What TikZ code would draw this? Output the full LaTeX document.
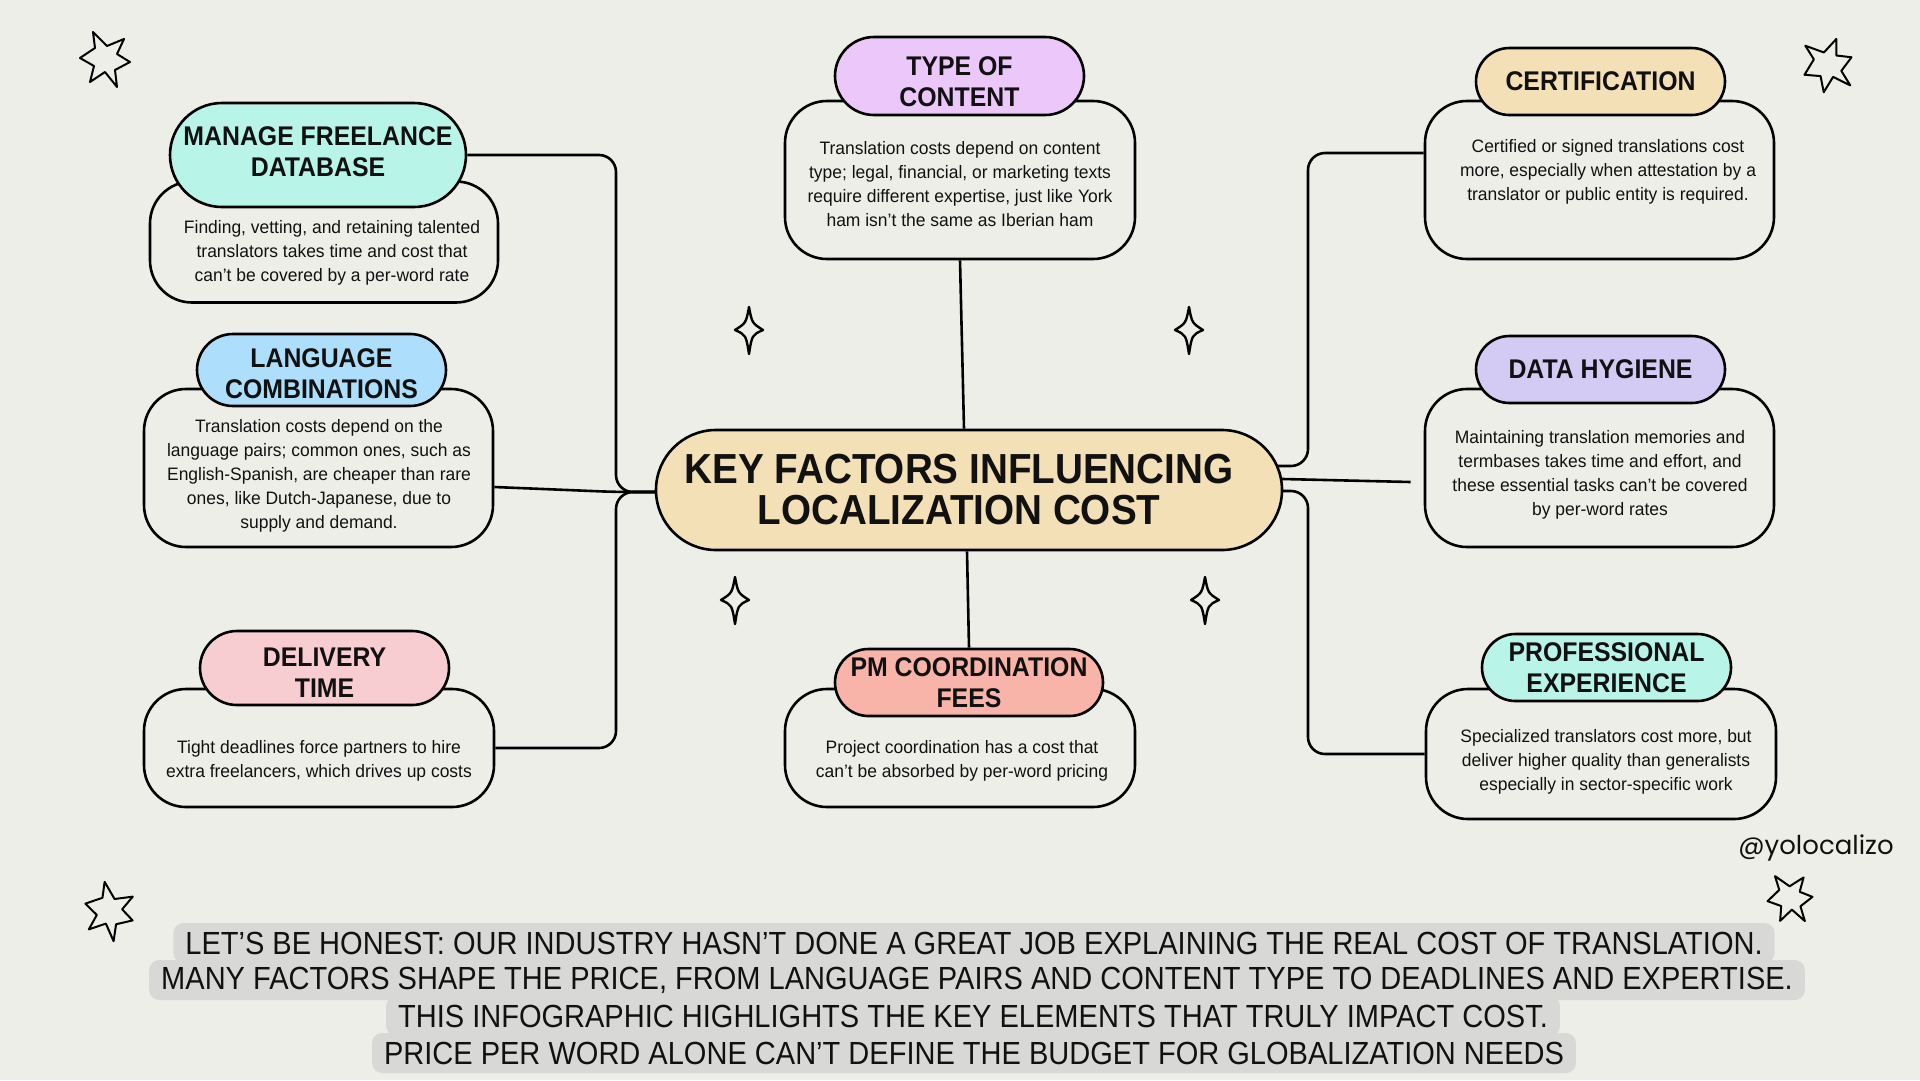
\documentclass[tikz,border=0pt]{standalone}
\usepackage{fontspec}
\setmainfont{Liberation Sans}
\newfontfamily\descfont[FakeStretch=0.97]{Liberation Sans}
\newfontfamily\titlefont[FakeStretch=0.92]{Liberation Sans}
\newfontfamily\notefont[FakeStretch=0.907]{Liberation Sans}
\newfontfamily\handlefont{Poppins}
\usetikzlibrary{shapes.misc,calc}
\pgfdeclarelayer{bgfill}
\pgfdeclarelayer{links}
\pgfsetlayers{bgfill,links,main}
\definecolor{bgc}{RGB}{238,238,233}
\definecolor{mint}{RGB}{184,245,232}
\definecolor{skyb}{RGB}{173,222,252}
\definecolor{pinkc}{RGB}{248,205,210}
\definecolor{lav}{RGB}{236,199,250}
\definecolor{salmon}{RGB}{248,180,168}
\definecolor{wheat}{RGB}{243,224,183}
\definecolor{peri}{RGB}{212,203,245}
\definecolor{hl}{RGB}{216,216,214}
\definecolor{ink}{RGB}{17,17,17}
\tikzset{
  pill/.style={rounded rectangle, draw=black, line width=2.6pt, align=center, inner sep=0pt,
    text=ink, font=\titlefont\bfseries\fontsize{27}{31}\selectfont},
  descbox/.style={draw=black, line width=2.6pt, rounded corners=42pt, fill=bgc, inner sep=0pt},
  desctext/.style={align=center, inner sep=0pt, text=ink, font=\descfont\fontsize{18}{24}\selectfont},
  conn/.style={draw=black, line width=2.6pt, rounded corners=17pt},
  note/.style={fill=hl, rounded corners=10pt, inner xsep=12pt, inner ysep=0pt, minimum height=40pt,
    text=ink, font=\notefont\fontsize{32}{36}\selectfont},
  hstar/.pic={\draw[line width=2pt, line join=round] (-25,-2) -- (-10,-12) -- (-12,-28) -- (2,-14) -- (19,-21) -- (12,-6) -- (25,2) -- (10,10) -- (12,27) -- (0,12) -- (-15,22) -- (-11,6) -- cycle;},
  spark/.pic={\draw[line width=2.4pt, line join=round] (0,-23) .. controls (3,-7) .. (14,0) .. controls (3,5) .. (0,24) .. controls (-3,5) .. (-14,0) .. controls (-3,-7) .. (0,-23) -- cycle;}
}
\begin{document}
\begin{tikzpicture}[x=1pt,y=-1pt]
\begin{pgfonlayer}{bgfill}
\fill[bgc] (0,0) rectangle (1920,1080);
\end{pgfonlayer}
\useasboundingbox (0,0) rectangle (1920,1080);

% ---- Manage freelance database
\node[descbox, minimum width=348, minimum height=121] (mb) at (324,242) {};
\node[desctext] (mt) at (332,253) {Finding, vetting, and retaining talented\\translators takes time and cost that\\can’t be covered by a per-word rate};
\node[pill, fill=mint, minimum width=296, minimum height=104] (mp) at (318,155) {MANAGE FREELANCE\\DATABASE\rule[-6pt]{0pt}{6pt}};

% ---- Language combinations
\node[descbox, minimum width=349, minimum height=158] (lb) at (318.5,468) {};
\node[desctext] (lt) at (319,476) {Translation costs depend on the\\language pairs; common ones, such as\\English-Spanish, are cheaper than rare\\ones, like Dutch-Japanese, due to\\supply and demand.};
\node[pill, fill=skyb, minimum width=249, minimum height=72] (lp) at (321.5,370) {\rule{0pt}{25.5pt}LANGUAGE\\COMBINATIONS};

% ---- Delivery time
\node[descbox, minimum width=350, minimum height=118] (db) at (319,748) {};
\node[desctext] (dt) at (319,761) {Tight deadlines force partners to hire\\extra freelancers, which drives up costs};
\node[pill, fill=pinkc, minimum width=249, minimum height=74] (dp) at (324.5,668) {\rule{0pt}{27.5pt}DELIVERY\\TIME};

% ---- Type of content
\node[descbox, minimum width=350, minimum height=158] (tb) at (960,180) {};
\node[desctext] (tt) at (960,184) {Translation costs depend on content\\type; legal, financial, or marketing texts\\require different expertise, just like York\\ham isn’t the same as Iberian ham};
\node[pill, fill=lav, minimum width=249, minimum height=78] (tp) at (959.5,76) {\rule{0pt}{30pt}TYPE OF\\CONTENT};

% ---- PM coordination fees
\node[descbox, minimum width=350, minimum height=118] (pb) at (960,748) {};
\node[desctext] (pt) at (962,761) {Project coordination has a cost that\\can’t be absorbed by per-word pricing};
\node[pill, fill=salmon, minimum width=268, minimum height=67] (pp) at (969,682.5) {PM COORDINATION\\FEES};

% ---- Certification
\node[descbox, minimum width=349, minimum height=158] (cb) at (1599.5,180) {};
\node[desctext] (ct) at (1608,172) {Certified or signed translations cost\\more, especially when attestation by a\\translator or public entity is required.};
\node[pill, fill=wheat, minimum width=249, minimum height=67] (cp) at (1600.5,81.5) {CERTIFICATION};

% ---- Data hygiene
\node[descbox, minimum width=349, minimum height=158] (hb) at (1599.5,468) {};
\node[desctext] (ht) at (1600,475) {Maintaining translation memories and\\termbases takes time and effort, and\\these essential tasks can’t be covered\\by per-word rates};
\node[pill, fill=peri, minimum width=249, minimum height=67] (hp) at (1600.5,369.5) {DATA HYGIENE};

% ---- Professional experience
\node[descbox, minimum width=350, minimum height=130] (xb) at (1601,754) {};
\node[desctext] (xt) at (1606,762) {Specialized translators cost more, but\\deliver higher quality than generalists\\especially in sector-specific work};
\node[pill, fill=mint, minimum width=249, minimum height=67] (xp) at (1606.5,667.5) {PROFESSIONAL\\EXPERIENCE};

% ---- Central
\node[pill, fill=wheat, minimum width=626, minimum height=120,
  font=\titlefont\bfseries\fontsize{42}{41}\selectfont] (c) at (969,490) {KEY FACTORS INFLUENCING\hspace*{20pt}\\LOCALIZATION COST\hspace*{20pt}};

% ---- connectors
\begin{pgfonlayer}{links}
\coordinate (lx) at (616,492);
\coordinate (cl) at (700,492);
\draw[conn] (mp.east) -- (lx |- mp.east) -- (lx) -- (cl);
\draw[conn] ($(lb.east)+(0,19)$) -- (lx) -- (cl);
\draw[conn] (db.east) -- (lx |- db.east) -- (lx) -- (cl);
\draw[conn] (tb.south) -- ($(c.north)+(-5,0)$);
\draw[conn] ($(c.south)+(-2,0)$) -- (pp.north);
\coordinate (rx) at (1308,0);
\coordinate (cru) at (1240,466);
\coordinate (crm) at (1240,478);
\coordinate (crd) at (1240,491);
\coordinate (cbw) at ($(cb.west)+(0,-27)$);
\draw[conn] (cru) -- (rx |- cru) -- (rx |- cbw) -- (cbw);
\draw[conn] (crm) -- ($(hb.west)+(-13,14)$);
\draw[conn] (crd) -- (rx |- crd) -- (rx |- xb.west) -- (xb.west);
\end{pgfonlayer}

% ---- decorations
\pic at (105,60) {hstar};
\pic[rotate=25] at (1828,66) {hstar};
\pic[rotate=-15] at (109,912) {hstar};
\pic[rotate=10, scale=0.9] at (1790,899) {hstar};
\pic at (749,330) {spark};
\pic at (1189,330) {spark};
\pic at (735,600) {spark};
\pic at (1205,600) {spark};

% ---- handle
\node[inner sep=0pt, text=ink, font=\handlefont\fontsize{26}{30}\selectfont] (hd) at (1816,848) {@yolocalizo};

% ---- bottom note
\node[note] (n1) at (974,943) {LET’S BE HONEST: OUR INDUSTRY HASN’T DONE A GREAT JOB EXPLAINING THE REAL COST OF TRANSLATION.};
\node[note] (n2) at (977,980) {MANY FACTORS SHAPE THE PRICE, FROM LANGUAGE PAIRS AND CONTENT TYPE TO DEADLINES AND EXPERTISE.};
\node[note] (n3) at (973,1016) {THIS INFOGRAPHIC HIGHLIGHTS THE KEY ELEMENTS THAT TRULY IMPACT COST.};
\node[note] (n4) at (974,1053) {PRICE PER WORD ALONE CAN’T DEFINE THE BUDGET FOR GLOBALIZATION NEEDS};
\end{tikzpicture}
\end{document}
